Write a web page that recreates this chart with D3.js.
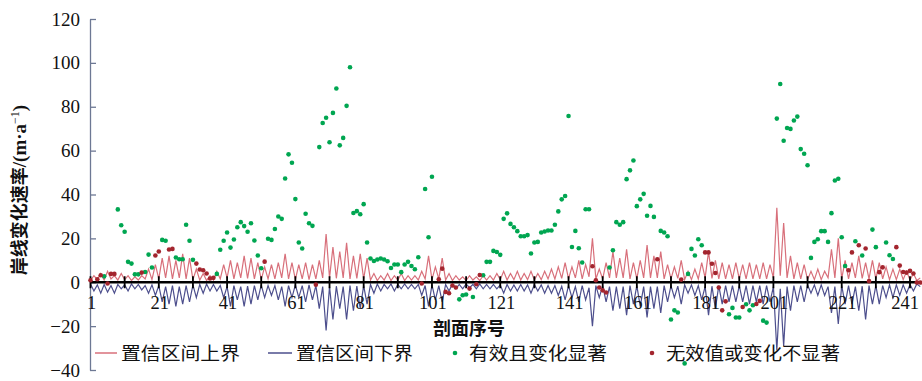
<!DOCTYPE html>
<html><head><meta charset="utf-8">
<script src="https://cdn.jsdelivr.net/npm/d3@7"></script>
<style>body{margin:0;background:#fff}svg{display:block}</style>
</head><body>
<svg id="c" width="922" height="381"></svg>
<script>
// ---- data ----
const upperBound = [
0.8,3, 1.2,4, 1,5, 1.5,3, 1,4, 1.2,3, 0.8,2.5, 1,3, 1.5,6, 1.2,8,
1.5,11, 2,12, 1.5,10, 2,13, 1.5,11, 1.2,6, 1,4, 0.8,3, 1,5, 1.5,8,
2,10, 1.5,9, 2,12, 1.8,11, 1.5,9, 1.2,7, 1.5,8, 1.5,9, 2,13, 1.5,9,
1.2,8, 1.5,9, 1.2,8, 1.5,10, 2,22, 2,16, 1.8,14, 2,18, 1.5,12, 1.8,13,
1.5,11, 1,4, 0.8,3, 1,4, 0.8,3, 1,4, 0.8,3, 1,3, 1,5, 1.5,12,
1.2,7, 1.5,11, 1,4, 0.8,3, 1,2.5, 0.8,3, 1,2.5, 0.8,3, 1,3, 1,4,
1.2,5, 1,4, 1.2,5, 1,4, 1.2,5, 1,4, 1.2,5, 1.5,6, 1.5,7, 1.8,9,
1.5,7, 2,10, 1.5,8, 2.5,20, 1.5,6, 1.5,9, 2,14, 2,11, 2,15, 1.5,9,
1.5,10, 2,17, 2,12, 2,14, 1.5,8, 1.5,7, 1.8,10, 1.2,5, 1.2,6, 1.5,9,
2,14, 1.8,10, 1.5,9, 1.5,8, 1.5,9, 1.5,8, 1.5,9, 1.5,8, 1.5,9, 1.5,8,
2,34, 3,27, 2,12, 1.5,9, 1.5,8, 1.2,5, 1.2,6, 1.2,5, 2,15, 2,20,
1.5,10, 1.5,9, 2,12, 1.8,9, 1.5,10, 1.5,9, 1.5,7, 1.2,6, 1.2,6, 1.2,5,
1,4, 0.8,2];
const lowerBound = [
-0.8,-4, -1.2,-5, -1,-4.5, -1.5,-5, -1,-3, -1.2,-4, -0.8,-3, -1,-3.5, -1.5,-5, -1.2,-6,
-1.5,-9, -2,-10, -1.5,-11, -2,-10, -1.5,-9, -1.2,-7, -1,-5, -0.8,-4, -1,-4, -1.5,-7,
-2,-11, -1.5,-8, -2,-11, -1.8,-10, -1.5,-8, -1.2,-7, -1.5,-6, -1.5,-8, -2,-11, -1.5,-7,
-1.2,-7, -1.5,-9, -1.2,-8, -1.5,-12, -2,-22, -2,-17, -1.8,-12, -2,-17, -1.5,-13, -1.8,-12,
-1.5,-10, -1,-5, -0.8,-4, -1,-3, -0.8,-4, -1,-3, -0.8,-3, -1,-3, -1,-6, -1.5,-11,
-1.2,-8, -1.5,-9, -1,-4, -0.8,-3, -1,-3, -0.8,-2.5, -1,-3, -0.8,-3, -1,-3, -1,-3,
-1.2,-5, -1,-4, -1.2,-4, -1,-4, -1.2,-5, -1,-4, -1.2,-5, -1.5,-5, -1.5,-6, -1.8,-8,
-1.5,-7, -2,-9, -1.5,-8, -2.5,-20, -1.5,-7, -1.5,-9, -2,-13, -2,-12, -2,-15, -1.5,-10,
-1.5,-11, -2,-16, -2,-12, -2,-14, -1.5,-9, -1.5,-7, -1.8,-10, -1.2,-5, -1.2,-6, -1.5,-8,
-2,-15, -1.8,-12, -1.5,-10, -1.5,-9, -1.5,-9, -1.5,-9, -1.5,-10, -1.5,-9, -1.5,-10, -1.5,-9,
-2,-31, -3,-29, -2,-13, -1.5,-9, -1.5,-9, -1.2,-5, -1.2,-6, -1.2,-6, -2,-14, -2,-19,
-1.5,-10, -1.5,-10, -2,-13, -1.8,-17, -1.5,-10, -1.5,-10, -1.5,-7, -1.2,-7, -1.2,-6, -1.2,-5,
-1,-4, -0.8,-2];
const sigIdx = [5,9,10,11,12,13,14,15,17,18,19,22,23,26,27,28,29,30,31,38,39,40,41,42,43,44,45,46,47,48,49,50,51,53,54,55,56,57,58,59,60,61,62,63,64,65,66,68,69,70,71,72,73,74,75,76,77,78,79,80,81,82,83,84,85,86,87,88,89,90,91,92,93,94,95,96,97,99,100,101,109,110,111,113,116,117,118,119,120,121,122,123,124,125,126,127,128,129,130,131,132,133,134,135,136,137,138,139,140,141,142,143,144,145,146,147,153,154,155,156,157,158,159,160,161,162,163,164,165,166,168,169,170,171,172,173,175,176,177,178,179,180,188,189,190,191,193,194,195,198,199,202,203,204,205,206,207,208,209,210,211,212,213,214,215,216,217,218,219,220,221,222,225,227,230,231,234,235,236];
const sigVal = [2.7,33.2,26,23,9.3,8.5,3.6,3.6,4.7,12.6,6.7,19.3,18.9,11.3,10.5,10.5,26.2,18.9,10.2,3.8,14.8,18.9,22.7,15.8,19.5,25.1,27.4,25.6,23,26.9,19,12.2,6.4,19.8,19.3,24.3,30,28.9,47.3,58.3,54.5,37.9,18.1,15.4,31.2,26.9,25.7,61.6,72.6,75,63.8,77.2,88.3,62.4,65.8,80.4,98,31.6,32.4,31,35.6,18.1,10.8,9.7,10.4,10.8,10.4,9.6,6.5,8.1,8.1,4.6,8.1,9.3,7.4,5.9,11.4,42.5,20.5,48.1,-7.8,-5.9,-5.6,-6.7,3.2,9.3,9.3,14.3,13.8,12.5,28.9,31.4,26.6,25.1,23.3,21,21,21.5,13.1,18.1,18.4,22.7,23.1,23.6,23.6,26.2,32.3,37.8,39.3,75.8,16.1,23.4,15.5,9,33.3,33.3,6.7,14.6,27.4,26.2,27.4,47,51,55.5,34.7,37.8,40.3,30.3,34.8,29.8,23.4,22.7,21,-17,-12.8,-13.8,-37,3.8,15.2,12.2,19.6,16.9,-14.6,-11.7,-16.1,-16.1,-10,-12.8,-10.5,-17.5,-18.4,74.6,90.4,64.5,70.3,69.9,73.7,75.5,60.7,58.6,53.3,11.1,18.4,19.6,23.3,23.3,18.4,31.5,46.4,47.2,20.5,7.4,18.7,12.2,24,16,18.1,12.3,10.6];
const nsIdx = [1,3,4,6,7,8,16,20,21,24,25,32,33,34,35,36,37,52,67,98,103,104,105,106,107,108,112,114,115,148,149,150,151,152,167,174,181,182,183,184,185,186,187,192,196,197,223,224,226,228,229,232,233,237,238,239,240,241,242,243,244];
const nsVal = [0.9,1.4,3.2,-0.6,3.8,3.8,4.4,12.2,14,14.9,15.2,8.5,5.8,5.5,4,1.7,2,9.4,-1.1,-0.6,1.4,6.2,-4.4,-5,-1.5,-2.4,-2.9,-0.9,3.3,7.3,0.9,-2.4,-3.7,-4.7,10.5,1.2,13.6,13.6,8.4,4.2,-2.4,-12.8,-8.7,-11.3,-9.9,-8.5,5.5,13.6,16.9,15.4,0.5,4.6,6.8,16,7.6,4.7,4.4,5.2,4,-0.1,-0.1];
const yTicks = [-40,-20,0,20,40,60,80,100,120];
const xMajor = [1,21,41,61,81,101,121,141,161,181,201,221,241];
const xMinor = [1,11,21,31,41,51,61,71,81,91,101,111,121,131,141,151,161,171,181,191,201,211,221,231,241];
const legendItems = ["置信区间上界","置信区间下界","有效且变化显著","无效值或变化不显著"];
const yTitleCJK = "岸线变化速率";
const yTitleUnit = "/(m·a";
const xTitle = "剖面序号";

// ---- style ----
const C_UP = "#d8707b", C_LO = "#4d4f8d", C_SIG = "#00a651", C_NS = "#a3252e";
const SERIF = "'Liberation Serif','Times New Roman','Noto Sans CJK SC',serif";
const CJK = "'Noto Sans CJK SC','Liberation Serif',sans-serif";

const svg = d3.select("#c");
const x = d3.scaleLinear().domain([1,241]).range([90.5,910]);
const y = d3.scaleLinear().domain([-40,120]).range([370,19]);

// y axis
const ya = svg.append("g").attr("transform","translate(90,0)")
  .call(d3.axisLeft(y).tickValues(yTicks).tickSizeInner(-6).tickSizeOuter(0).tickPadding(10));
ya.select(".domain").attr("stroke","#6d7894").attr("stroke-width",1.3);
ya.selectAll(".tick line").attr("stroke","#6d7894").attr("stroke-width",1.3);
ya.selectAll(".tick text").attr("font-family",SERIF).attr("font-size",19).attr("fill","#111");

// lines
const idx = d3.range(1, upperBound.length+1);
const lineGen = arr => d3.line().x((d,i)=>x(idx[i])).y(d=>y(d))(arr);
svg.append("path").attr("d",lineGen(upperBound)).attr("fill","none").attr("stroke",C_UP).attr("stroke-width",1.2);
svg.append("path").attr("d",lineGen(lowerBound)).attr("fill","none").attr("stroke",C_LO).attr("stroke-width",1.2);

// x axis at zero
svg.append("line").attr("x1",90).attr("x2",921).attr("y1",y(0)).attr("y2",y(0)).attr("stroke","#000").attr("stroke-width",2.6);
svg.append("g").selectAll("line").data(xMinor).join("line")
  .attr("x1",d=>x(d)).attr("x2",d=>x(d)).attr("y1",y(0)-6).attr("y2",y(0)+6)
  .attr("stroke","#000").attr("stroke-width",1.8);
svg.append("g").selectAll("text").data(xMajor).join("text")
  .attr("x",(d,i)=> i===xMajor.length-1 ? 919 : x(d)+1).attr("y",y(0)+27)
  .attr("text-anchor",(d,i)=> i===xMajor.length-1 ? "end" : "middle")
  .attr("font-family",SERIF).attr("font-size",18.5).attr("fill","#111").text(d=>d);

// points
svg.append("g").selectAll("circle").data(sigIdx).join("circle")
  .attr("cx",d=>x(d)).attr("cy",(d,i)=>y(sigVal[i])).attr("r",2.3).attr("fill",C_SIG);
svg.append("g").selectAll("circle").data(nsIdx).join("circle")
  .attr("cx",d=>x(d)).attr("cy",(d,i)=>y(nsVal[i])).attr("r",2.3).attr("fill",C_NS);

// titles
svg.append("text").attr("x",469).attr("y",335).attr("text-anchor","middle")
  .attr("font-family",CJK).attr("font-size",18).attr("font-weight","bold").attr("fill","#111").text(xTitle);
const yt = svg.append("text").attr("transform","translate(26,190) rotate(-90)").attr("text-anchor","middle")
  .attr("font-family",CJK).attr("font-size",18).attr("font-weight","bold").attr("fill","#111");
yt.append("tspan").text(yTitleCJK);
yt.append("tspan").attr("font-family",SERIF).attr("font-size",19).text(yTitleUnit);
yt.append("tspan").attr("font-family",SERIF).attr("font-weight","normal").attr("font-size",12).attr("dy",-7).text("−1");
yt.append("tspan").attr("font-family",SERIF).attr("font-size",19).attr("dy",7).text(")");

// legend
const lg = svg.append("g").attr("font-family",CJK).attr("font-size",18).attr("fill","#111");
const lgPos = [{sx:95,tx:121,w:119},{sx:268,tx:296,w:117},{sx:455,tx:469,w:138},{sx:652,tx:666,w:174}];
const lgY = 353;
lg.append("line").attr("x1",lgPos[0].sx).attr("x2",lgPos[0].sx+22).attr("y1",lgY).attr("y2",lgY).attr("stroke",C_UP).attr("stroke-width",1.5);
lg.append("line").attr("x1",lgPos[1].sx).attr("x2",lgPos[1].sx+24).attr("y1",lgY).attr("y2",lgY).attr("stroke",C_LO).attr("stroke-width",1.5);
lg.append("circle").attr("cx",lgPos[2].sx).attr("cy",lgY).attr("r",2.3).attr("fill",C_SIG);
lg.append("circle").attr("cx",lgPos[3].sx).attr("cy",lgY).attr("r",2.3).attr("fill",C_NS);
legendItems.forEach((t,i)=>{
  lg.append("text").attr("x",lgPos[i].tx).attr("y",lgY+6.5).attr("textLength",lgPos[i].w)
    .attr("lengthAdjust","spacingAndGlyphs").text(t);
});
</script>
</body></html>
